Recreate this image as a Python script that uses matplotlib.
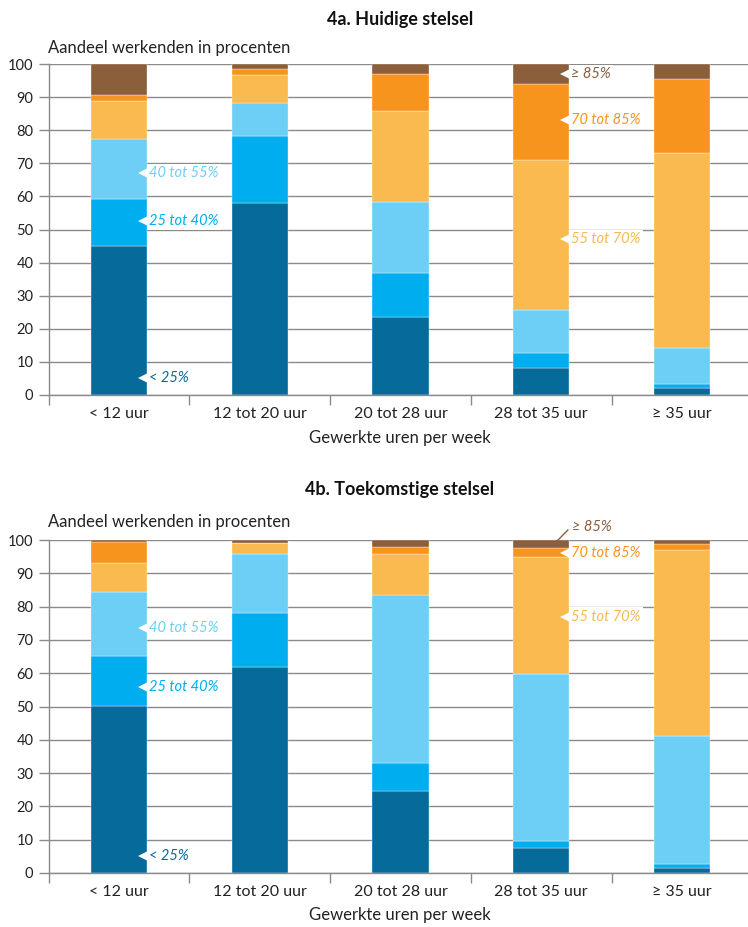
import matplotlib
matplotlib.use("Agg")
import matplotlib.pyplot as plt
import numpy as np

plt.rcParams['font.family'] = ['Lato', 'DejaVu Sans']

categories = ["< 12 uur", "12 tot 20 uur", "20 tot 28 uur", "28 tot 35 uur", "≥ 35 uur"]
series = ["< 25%", "25 tot 40%", "40 tot 55%", "55 tot 70%", "70 tot 85%", "≥ 85%"]
colors = ["#066a9b", "#00aeef", "#6dcff6", "#fbba50", "#f7941d", "#8b5e3c"]

# 4a. Huidige stelsel (share per category, per series)
huidig = {
    "< 25%":      [45.0, 57.9, 23.5, 8.3, 2.2],
    "25 tot 40%": [14.2, 20.3, 13.5, 4.5, 1.2],
    "40 tot 55%": [18.0, 9.9, 21.3, 13.0, 10.7],
    "55 tot 70%": [11.5, 8.7, 27.4, 45.3, 59.1],
    "70 tot 85%": [2.0, 1.7, 11.4, 23.0, 22.3],
    "≥ 85%":      [9.3, 1.5, 2.9, 5.9, 4.5],
}
# 4b. Toekomstige stelsel
toekomst = {
    "< 25%":      [50.2, 61.9, 24.7, 7.5, 1.5],
    "25 tot 40%": [15.0, 16.3, 8.4, 2.2, 1.2],
    "40 tot 55%": [19.3, 17.7, 50.4, 50.2, 38.5],
    "55 tot 70%": [8.6, 3.1, 12.3, 35.1, 55.8],
    "70 tot 85%": [6.4, 0.2, 2.2, 2.6, 1.7],
    "≥ 85%":      [0.5, 0.8, 2.0, 2.4, 1.3],
}
# label annotations: (category index, series index, y position)
labels_a = [(0, 0, 5), (0, 1, 52.5), (0, 2, 67), (3, 3, 47), (3, 4, 83), (3, 5, 97)]
labels_b = [(0, 0, 5), (0, 1, 56), (0, 2, 73.5), (3, 3, 77), (3, 4, 96)]

yticks = list(range(0, 101, 10))
titles = ["4a. Huidige stelsel", "4b. Toekomstige stelsel"]
ylabel = "Aandeel werkenden in procenten"
xlabel = "Gewerkte uren per week"

W, H = 748, 927
fig = plt.figure(figsize=(W / 100, H / 100), dpi=100)

GRID = "#8a8a8a"
BW = 0.4

def fy(py):
    return 1 - py / H

def draw(ax, data, labels):
    x = np.arange(len(categories))
    bottom = np.zeros(len(categories))
    for s, c in zip(series, colors):
        vals = np.array(data[s])
        ax.bar(x, vals, BW, bottom=bottom, color=c, edgecolor="white",
               linewidth=0.25, zorder=2)
        bottom += vals
    ax.set_xlim(-0.5, len(categories) - 0.5)
    ax.set_ylim(0, 100)
    ax.set_yticks(yticks)
    ax.set_yticklabels([str(t) for t in yticks], fontsize=10.5, color="#222222")
    ax.set_xticks(x)
    ax.set_xticklabels(categories, fontsize=11.5, color="#222222")
    ax.set_xticks(np.arange(-0.5, len(categories) - 0.4, 1.0), minor=True)
    ax.tick_params(axis="x", which="major", length=0, pad=9)
    ax.tick_params(axis="x", which="minor", length=7, color=GRID, width=1)
    ax.tick_params(axis="y", length=7, color=GRID, width=1, pad=4)
    ax.grid(axis="y", color=GRID, linewidth=1.0, zorder=0)
    ax.set_axisbelow(True)
    for sp in ["top", "right"]:
        ax.spines[sp].set_visible(False)
    for sp in ["left", "bottom"]:
        ax.spines[sp].set_color(GRID)
        ax.spines[sp].set_linewidth(1.0)
    for ci, si, yv in labels:
        xe = x[ci] + BW / 2
        ax.plot([xe], [yv], marker="<", markersize=13, color="white",
                markeredgewidth=0, zorder=3, clip_on=False)
        ax.annotate(series[si], (xe, yv), xytext=(1.5, 0), textcoords="offset points",
                    ha="left", va="center", fontsize=10.5, style="italic",
                    color=colors[si], zorder=4,
                    bbox=dict(boxstyle="square,pad=0.15", fc="white", ec="none"))

ax1 = fig.add_axes([48.7 / W, fy(395), 703.5 / W, 331 / H])
draw(ax1, huidig, labels_a)
ax2 = fig.add_axes([48.7 / W, fy(873), 703.5 / W, 333 / H])
draw(ax2, toekomst, labels_b)

# leader label for >= 85% in bottom chart
xe = 3 + BW / 2
ax2.plot([xe - 0.087, xe - 0.01], [99.7, 103], color=colors[5], lw=1, clip_on=False, zorder=4)
ax2.text(xe + 0.02, 104, series[5], ha="left", va="center", fontsize=10.5,
         style="italic", color=colors[5], clip_on=False)

for t, py in zip(titles, [20, 490]):
    fig.text(400 / W, fy(py), t, ha="center", va="center", fontsize=13, fontweight="bold",
             color="#111111")
for py in [48, 522]:
    fig.text(48 / W, fy(py), ylabel, ha="left", va="center", fontsize=12, color="#222222")
for py in [438, 915]:
    fig.text(400 / W, fy(py), xlabel, ha="center", va="center", fontsize=12, color="#222222")

fig.savefig("out.png", dpi=100)
